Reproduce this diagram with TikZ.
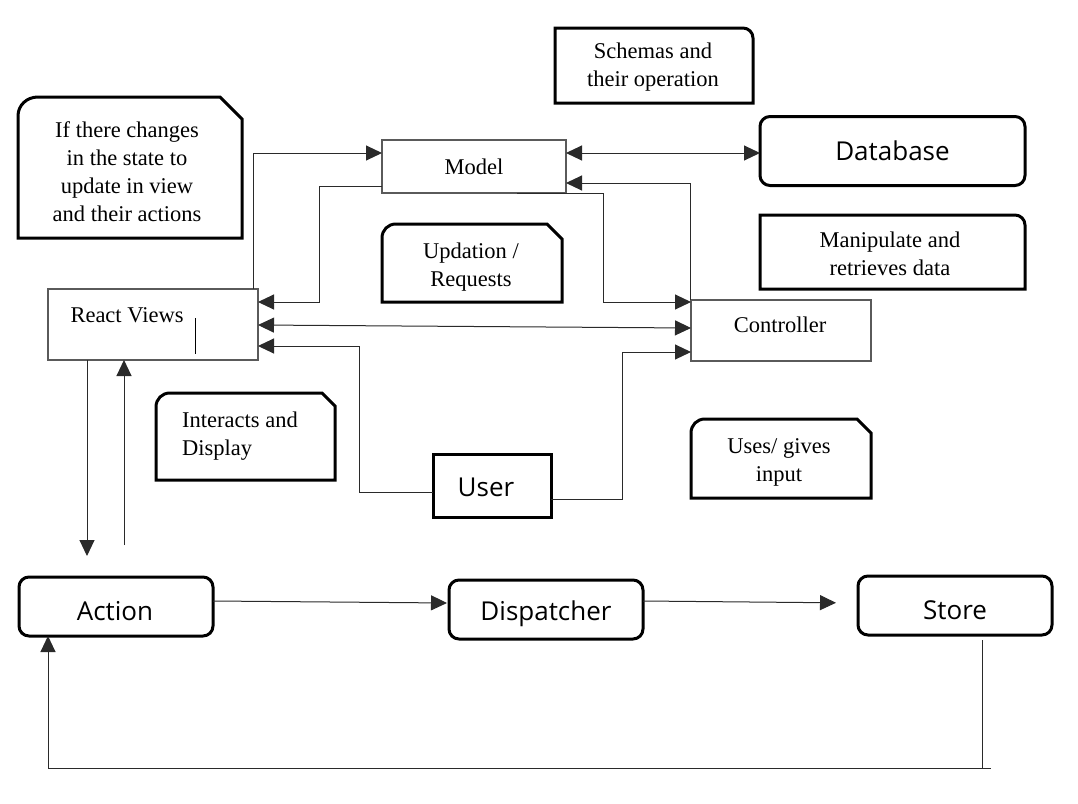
\documentclass[tikz,border=0pt]{standalone}
\usepackage{fontspec}
\setmainfont{Liberation Serif}
\setsansfont{Open Sans}
\usetikzlibrary{arrows.meta,calc}
\definecolor{boxgray}{HTML}{5A5A5A}
\definecolor{linegray}{HTML}{2A2A2A}
\begin{document}
\begin{tikzpicture}[x=1pt,y=-1pt,
  txt/.style={font=\rmfamily\fontsize{22.5}{28}\selectfont, align=center, inner sep=0},
  stxt/.style={font=\sffamily\fontsize{26}{30}\selectfont, inner sep=0},
  gbox/.style={draw=boxgray, line width=2.5pt, outer sep=0, inner sep=0},
  bbox/.style={draw=black, line width=3pt, outer sep=0, inner sep=0},
  rbox/.style={bbox, rounded corners=10pt},
  notepath/.style={draw=black, line width=3pt, line join=miter},
  arr/.style={draw=linegray, line width=1pt, -{Triangle[length=16pt,width=15pt]}},
  darr/.style={draw=linegray, line width=1pt, {Triangle[length=16pt,width=15pt]}-{Triangle[length=16pt,width=15pt]}},
  ln/.style={draw=linegray, line width=1pt},
]
\useasboundingbox (0,0) rectangle (1078,803);
\fill[white] (0,0) rectangle (1078,803);

% ---------- main boxes ----------
\node[gbox, minimum width=184pt, minimum height=53pt, txt] (model) at (474,166.5) {Model};
\node[rbox, minimum width=265pt, minimum height=69pt, stxt] (database) at (892.5,151) {Database};
\node[gbox, minimum width=210pt, minimum height=71pt] (views) at (153,324.5) {};
\node[txt] (viewslbl) at (127,315) {React Views};
\node[gbox, minimum width=180pt, minimum height=61pt] (controller) at (781,330.5) {};
\node[txt] (ctrllbl) at (780,325) {Controller};
\node[bbox, minimum width=118pt, minimum height=63pt] (user) at (492,485.5) {};
\node[stxt] (userlbl) at (486,487) {User};
\node[rbox, minimum width=194pt, minimum height=59pt] (action) at (116,606.5) {};
\node[stxt] (actionlbl) at (115,611) {Action};
\node[rbox, minimum width=194pt, minimum height=59pt] (dispatcher) at (546,609.5) {};
\node[stxt] (displbl) at (546,614) {Dispatcher};
\node[rbox, minimum width=194pt, minimum height=59pt] (store) at (955,605.5) {};
\node[stxt] (storelbl) at (955,610) {Store};

% cursor mark inside React Views
\draw[line width=1pt] (195,318) -- (195,354);

% ---------- annotation notes ----------
% If there changes ...
\draw[notepath] (18,238) -- (18,116) .. controls (18,105) and (27,97) .. (38,97)
  -- (220,97) -- (242,119) -- (242,238) -- cycle;
\node[txt] (note1) at (127,172) {If there changes\\in the state to\\update in view\\and their actions};

% Schemas
\draw[notepath] (555,103) -- (555,28) -- (743,28) .. controls (748.5,28) and (753,32.5) .. (753,38)
  -- (753,103) -- cycle;
\node[txt] (note2) at (653,67) {Schemas and\\their operation};

% Manipulate
\draw[notepath] (760,289) -- (760,215) -- (1015,215) .. controls (1020.5,215) and (1025,219.5) .. (1025,225)
  -- (1025,289) -- cycle;
\node[txt] (note3) at (890,254) {Manipulate and\\retrieves data};

% Updation
\draw[notepath] (382,302) -- (382,238) .. controls (382,230) and (388,224) .. (396,224)
  -- (547,224) -- (562,239) -- (562,302) -- cycle;
\node[txt] (note4) at (471,267) {Updation /\\Requests};

% Interacts
\draw[notepath] (156,480) -- (156,407) .. controls (156,399) and (162,393) .. (170,393)
  -- (322,393) -- (335,406) -- (335,480) -- cycle;
\node[txt, align=left, anchor=west] (note5) at (182,436) {Interacts and\\Display};

% Uses
\draw[notepath] (691,498) -- (691,433) .. controls (691,425) and (697,419) .. (705,419)
  -- (857,419) -- (871,433) -- (871,498) -- cycle;
\node[txt] (note6) at (779,462) {Uses/ gives\\input};

% ---------- connectors ----------
\draw[arr] (views.north -| 253,0) |- (model.west |- 0,153);
\draw[arr] (model.west |- 0,186) -| (319,302) -- (views.east |- 0,302);
\draw[darr] (views.east |- 0,325) -- (controller.west |- 0,328);
\draw[arr] (user.west |- 0,492) -| (359,346) -- (views.east |- 0,346);
\draw[arr] (user.east |- 0,499) -| (622,352) -- (controller.west |- 0,352);
\draw[darr] (model.east |- 0,153) -- (database.west |- 0,153);
\draw[arr] (controller.north -| 690,0) |- (model.east |- 0,183);
\draw[arr] (model.south -| 517,0) -| (603,302) -- (controller.west |- 0,302);

\coordinate (vdown) at (87,556);
\coordinate (vup) at (124,545);
\draw[arr] (views.south -| 87,0) -- (vdown);
\draw[arr] (vup) -- (views.south -| 124,0);

\draw[arr, shorten >=2pt] (action.east |- 0,601) -- (dispatcher.west |- 0,603);
\draw[arr, shorten >=22pt] (dispatcher.east |- 0,601) -- (store.west |- 0,603);

\coordinate (loopr) at (982,768);
\coordinate (loopl) at (48,768);
\coordinate (tail) at (991,768);
\draw[arr, shorten <=5pt] (store.south -| 982,0) -- (loopr) -- (loopl) -- (action.south -| 48,0);
\draw[ln] (loopr) -- (tail);
\end{tikzpicture}
\end{document}
